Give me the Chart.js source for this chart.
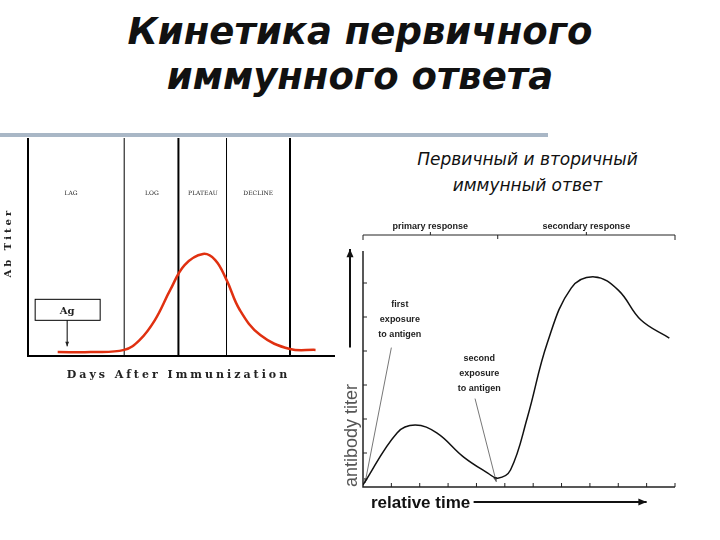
<!DOCTYPE html>
<html>
<head>
<meta charset="utf-8">
<script src="https://cdn.jsdelivr.net/npm/chart.js@4"></script>
<style>
  body { margin: 0; width: 720px; height: 540px; background: #fff; position: relative; overflow: hidden; font-family: "DejaVu Sans", sans-serif; }
  .title { position: absolute; left: 0; width: 720px; text-align: center; font-weight: bold; font-style: italic; font-size: 37px; color: #111; }
  .rule { position: absolute; left: 0; top: 133px; width: 548px; height: 4px; background: #a9b7c6; }
  .sub { position: absolute; left: 380px; width: 295px; text-align: center; font-style: italic; font-size: 17px; color: #111; line-height: 26px; }
  canvas { position: absolute; }
</style>
</head>
<body>
<div class="title" style="top:10px">Кинетика первичного</div>
<div class="title" style="top:55px">иммунного ответа</div>
<div class="rule"></div>
<div class="sub" style="top:146px">Первичный и вторичный<br>иммунный ответ</div>
<canvas id="left" style="left:0px;top:130px;width:340px;height:260px"></canvas>
<canvas id="right" style="left:336px;top:214px;width:362px;height:302px"></canvas>
<script>
// left chart: primary response, days 0..30, titre 0..100
const primaryDays = [2.9, 6.1, 9.4, 10.9, 12.4, 13.9, 15.3, 17.1, 18.3, 19.4, 20.7, 22.7, 25.6, 28.1];
const primaryTiter = [1.8, 1.8, 2.8, 7.3, 16.5, 30.3, 41.7, 46.8, 44, 34.9, 21.1, 9.6, 3.2, 2.8];
const phaseBounds = [9.4, 14.7, 19.4, 25.6];
const phaseBold = [false, true, false, true];
const phaseNames = ['LAG', 'LOG', 'PLATEAU', 'DECLINE'];
const phaseCenters = [4.2, 12.1, 17.1, 22.5];

// right chart: primary and secondary response, relative time 0..11
const relTime = [0, 1.2, 1.84, 2.6, 3.55, 4.4, 4.75, 5.2, 5.8, 6.5, 7.34, 8.16, 9.0, 9.8, 10.8];
const abTiter = [0.06, 1.59, 1.82, 1.59, 0.88, 0.41, 0.26, 0.5, 2.06, 4.24, 5.85, 6.18, 5.79, 4.91, 4.38];
const timeTicks = [1, 2, 3, 4, 5, 6, 7, 8, 9, 10, 11];
const titerTicks = [1, 2, 3, 4, 5, 6];

function toXY(xs, ys) { return xs.map((x, i) => ({ x: x, y: ys[i] })); }

function arrow(ctx, x1, y1, x2, y2, size) {
  ctx.beginPath(); ctx.moveTo(x1, y1); ctx.lineTo(x2, y2); ctx.stroke();
  const a = Math.atan2(y2 - y1, x2 - x1);
  ctx.beginPath();
  ctx.moveTo(x2, y2);
  ctx.lineTo(x2 - size * Math.cos(a - 0.4), y2 - size * Math.sin(a - 0.4));
  ctx.lineTo(x2 - size * Math.cos(a + 0.4), y2 - size * Math.sin(a + 0.4));
  ctx.closePath(); ctx.fill();
}

const leftDeco = {
  id: 'leftDeco',
  beforeDatasetsDraw(chart) {
    const ctx = chart.ctx, a = chart.chartArea;
    const xs = chart.scales.x, ys = chart.scales.y;
    ctx.save();
    ctx.strokeStyle = '#000';
    phaseBounds.forEach((d, i) => {
      const px = xs.getPixelForValue(d);
      ctx.lineWidth = phaseBold[i] ? 2 : 1;
      ctx.beginPath(); ctx.moveTo(px, a.top); ctx.lineTo(px, a.bottom); ctx.stroke();
    });
    ctx.lineWidth = 2;
    ctx.beginPath(); ctx.moveTo(a.left, a.top); ctx.lineTo(a.left, a.bottom); ctx.lineTo(a.right, a.bottom); ctx.stroke();
    ctx.fillStyle = '#222';
    ctx.font = '6px "DejaVu Serif"';
    ctx.textAlign = 'center';
    phaseNames.forEach((n, i) => ctx.fillText(n, xs.getPixelForValue(phaseCenters[i]), ys.getPixelForValue(74)));
    // Ag box
    const bx = xs.getPixelForValue(0.7), by = ys.getPixelForValue(26);
    ctx.lineWidth = 1;
    ctx.strokeRect(bx, by, 65, 21);
    ctx.font = 'bold 10px "DejaVu Serif"';
    ctx.fillText('Ag', bx + 32, by + 15);
    arrow(ctx, bx + 32, by + 21, bx + 32, by + 47, 5);
    ctx.font = 'bold 11px "DejaVu Serif"';
    ctx.letterSpacing = '3px';
    ctx.fillText('Days After Immunization', xs.getPixelForValue(14.7), a.bottom + 22);
    ctx.translate(a.left - 17, ys.getPixelForValue(52));
    ctx.rotate(-Math.PI / 2);
    ctx.font = 'bold 10px "DejaVu Serif"';
    ctx.fillText('Ab Titer', 0, 0);
    ctx.restore();
  }
};

new Chart(document.getElementById('left'), {
  type: 'line',
  data: { datasets: [{ data: toXY(primaryDays, primaryTiter), borderColor: '#e03010', borderWidth: 2.5, pointRadius: 0, tension: 0.4 }] },
  options: {
    responsive: false, animation: false,
    layout: { padding: { left: 28, right: 5, top: 8, bottom: 34 } },
    plugins: { legend: { display: false }, tooltip: { enabled: false } },
    scales: { x: { type: 'linear', min: 0, max: 30, display: false }, y: { min: 0, max: 100, display: false } }
  },
  plugins: [leftDeco]
});

const rightDeco = {
  id: 'rightDeco',
  beforeDraw(chart) {
    const ctx = chart.ctx;
    ctx.save(); ctx.fillStyle = '#fff'; ctx.fillRect(0, 0, chart.width, chart.height); ctx.restore();
  },
  beforeDatasetsDraw(chart) {
    const ctx = chart.ctx, a = chart.chartArea;
    const xs = chart.scales.x, ys = chart.scales.y;
    ctx.save();
    ctx.strokeStyle = '#222'; ctx.fillStyle = '#222';
    ctx.lineWidth = 1.5;
    ctx.beginPath(); ctx.moveTo(a.left, a.top + 2); ctx.lineTo(a.left, a.bottom); ctx.lineTo(xs.getPixelForValue(11), a.bottom); ctx.stroke();
    ctx.lineWidth = 1;
    timeTicks.forEach(t => { const p = xs.getPixelForValue(t); ctx.beginPath(); ctx.moveTo(p, a.bottom); ctx.lineTo(p, a.bottom - 4); ctx.stroke(); });
    titerTicks.forEach(t => { const p = ys.getPixelForValue(t); ctx.beginPath(); ctx.moveTo(a.left, p); ctx.lineTo(a.left + 4, p); ctx.stroke(); });
    // brace
    const bl = a.left, bm = xs.getPixelForValue(4.75), br = xs.getPixelForValue(11), by = a.top - 14;
    ctx.beginPath();
    ctx.moveTo(bl, by + 5); ctx.lineTo(bl, by); ctx.lineTo(br, by); ctx.lineTo(br, by + 5);
    ctx.moveTo(bm, by); ctx.lineTo(bm, by + 4);
    ctx.moveTo((bl + bm) / 2, by); ctx.lineTo((bl + bm) / 2, by - 3);
    ctx.moveTo((bm + br) / 2, by); ctx.lineTo((bm + br) / 2, by - 3);
    ctx.stroke();
    ctx.font = 'bold 9px "Liberation Sans"';
    ctx.textAlign = 'center';
    ctx.fillText('primary response', (bl + bm) / 2, by - 6);
    ctx.fillText('secondary response', (bm + br) / 2, by - 6);
    ['first', 'exposure', 'to antigen'].forEach((s, i) => ctx.fillText(s, xs.getPixelForValue(1.3), ys.getPixelForValue(5.3) + i * 15));
    ['second', 'exposure', 'to antigen'].forEach((s, i) => ctx.fillText(s, xs.getPixelForValue(4.1), ys.getPixelForValue(3.7) + i * 15));
    ctx.strokeStyle = '#777'; ctx.fillStyle = '#555';
    arrow(ctx, xs.getPixelForValue(1.0), ys.getPixelForValue(4.1), a.left + 2, a.bottom - 4, 5);
    arrow(ctx, xs.getPixelForValue(3.95), ys.getPixelForValue(2.6), xs.getPixelForValue(4.7), ys.getPixelForValue(0.15), 5);
    ctx.strokeStyle = '#111'; ctx.fillStyle = '#111';
    ctx.lineWidth = 2;
    arrow(ctx, a.left - 13, ys.getPixelForValue(4.1), a.left - 13, a.top, 9);
    arrow(ctx, xs.getPixelForValue(3.9), a.bottom + 15, xs.getPixelForValue(10), a.bottom + 15, 9);
    ctx.font = 'bold 17px "Liberation Sans"';
    ctx.textAlign = 'left';
    ctx.fillText('relative time', a.left + 8, a.bottom + 21);
    ctx.font = '18px "Liberation Sans"';
    ctx.fillStyle = '#555';
    ctx.translate(a.left - 6, a.bottom);
    ctx.rotate(-Math.PI / 2);
    ctx.fillText('antibody titer', 0, 0);
    ctx.restore();
  }
};

new Chart(document.getElementById('right'), {
  type: 'line',
  data: { datasets: [{ data: toXY(relTime, abTiter), borderColor: '#111', borderWidth: 1.5, pointRadius: 0, tension: 0.4 }] },
  options: {
    responsive: false, animation: false,
    layout: { padding: { left: 27, right: 23, top: 35, bottom: 29 } },
    plugins: { legend: { display: false }, tooltip: { enabled: false } },
    scales: { x: { type: 'linear', min: 0, max: 11, display: false }, y: { min: 0, max: 7, display: false } }
  },
  plugins: [rightDeco]
});
</script>
</body>
</html>
